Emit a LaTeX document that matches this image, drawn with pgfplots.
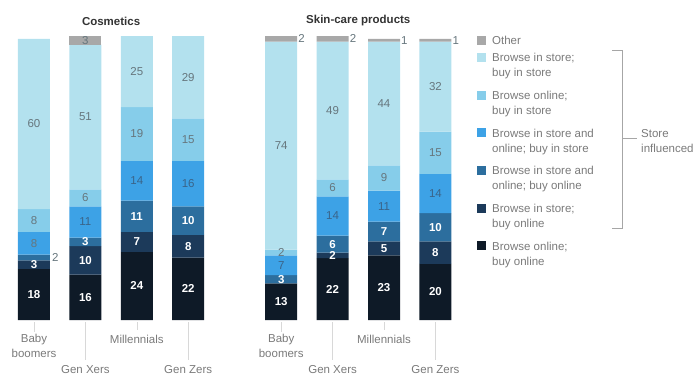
\documentclass[border=0pt]{standalone}
\usepackage{pgfplots}
\pgfplotsset{compat=1.18}
\usepackage{pgfplotstable}
\usepackage{fontspec}
\setmainfont{Liberation Sans}
\definecolor{cOther}{HTML}{A8A8A8}
\definecolor{cSS}{HTML}{B3E1EE}
\definecolor{cOS}{HTML}{86CDEA}
\definecolor{cBS}{HTML}{3DA2E6}
\definecolor{cBO}{HTML}{2C6E9E}
\definecolor{cSO}{HTML}{1C3A5A}
\definecolor{cOO}{HTML}{0E1A27}
\definecolor{labG}{HTML}{66767D}
\definecolor{labB}{HTML}{3A6489}
\definecolor{axG}{HTML}{D8D8D8}
\definecolor{txtG}{HTML}{7A7A7A}
\definecolor{titG}{HTML}{333333}

\pgfplotstableread{
x oo so bo bs os ss other
0 18 3 2 8 8 60 0
1 16 10 3 11 6 51 3
2 24 7 11 14 19 25 0
3 22 8 10 16 15 29 0
}\cosm

\pgfplotstableread{
x oo so bo bs os ss other
0 13 0 3 7 2 74 2
1 22 2 6 14 6 49 2
2 23 5 7 11 9 44 1
3 20 8 10 14 15 32 1
}\skin

\tikzset{
  vW/.style={text=white, font=\fontsize{11.5}{13}\selectfont\bfseries, inner sep=0pt},
  vB/.style={text=labB, font=\fontsize{11.5}{13}\selectfont, inner sep=0pt},
  vG/.style={text=labG, font=\fontsize{11.5}{13}\selectfont, inner sep=0pt},
  vO/.style={text=labG, font=\fontsize{11.5}{13}\selectfont, inner sep=0pt, anchor=west},
  xl/.style={text=txtG, font=\fontsize{11.5}{14}\selectfont, inner sep=0pt},
  lg/.style={text=txtG, font=\fontsize{11.5}{14}\selectfont, inner sep=0pt, anchor=base west},
  tt/.style={text=titG, font=\fontsize{11.5}{14}\selectfont\bfseries, inner sep=0pt},
}

\pgfplotsset{
  panel/.style={ybar stacked, reverse stacked plots=false, bar width=32pt, scale only axis,
    width=205.6pt, height=284pt,
    xmin=-0.5, xmax=3.5, ymin=0, ymax=100, hide axis, clip=false, anchor=south west},
}

\newcommand{\xlabels}{%
  \draw[axG] ([yshift=-2pt]axis cs:0,0) -- ([yshift=-12pt]axis cs:0,0);
  \node[xl] at ([yshift=-20pt]axis cs:0,0) {Baby};
  \node[xl] at ([yshift=-33pt]axis cs:0,0) {boomers};
  \draw[axG] ([yshift=-2pt]axis cs:1,0) -- ([yshift=-40pt]axis cs:1,0);
  \node[xl] at ([yshift=-50pt]axis cs:1,0) {Gen Xers};
  \draw[axG] ([yshift=-2pt]axis cs:2,0) -- ([yshift=-10pt]axis cs:2,0);
  \node[xl] at ([yshift=-19pt]axis cs:2,0) {Millennials};
  \draw[axG] ([yshift=-2pt]axis cs:3,0) -- ([yshift=-40pt]axis cs:3,0);
  \node[xl] at ([yshift=-50pt]axis cs:3,0) {Gen Zers};
}

\begin{document}
\begin{tikzpicture}
\path[use as bounding box] (0,0) rectangle (697pt,373pt);

% ---------------- Cosmetics ----------------
\begin{axis}[panel, at={(8.3pt,53pt)}]
\addplot[fill=cOO, draw=none] table[x=x,y=oo]{\cosm};
\addplot[fill=cSO, draw=none] table[x=x,y=so]{\cosm};
\addplot[fill=cBO, draw=none] table[x=x,y=bo]{\cosm};
\addplot[fill=cBS, draw=none] table[x=x,y=bs]{\cosm};
\addplot[fill=cOS, draw=none] table[x=x,y=os]{\cosm};
\addplot[fill=cSS, draw=none] table[x=x,y=ss]{\cosm};
\addplot[fill=cOther, draw=none] table[x=x,y=other]{\cosm};
\node[vW] at (axis cs:0,9) {18};
\node[vW] at (axis cs:0,19.5) {3};
\node[vO] at ([xshift=18pt]axis cs:0,22) {2};
\node[vG] at (axis cs:0,27) {8};
\node[vG] at (axis cs:0,35) {8};
\node[vG] at (axis cs:0,69) {60};
\node[vW] at (axis cs:1,8) {16};
\node[vW] at (axis cs:1,21) {10};
\node[vW] at (axis cs:1,27.5) {3};
\node[vB] at (axis cs:1,34.5) {11};
\node[vG] at (axis cs:1,43) {6};
\node[vG] at (axis cs:1,71.5) {51};
\node[vG] at (axis cs:1,98.5) {3};
\node[vW] at (axis cs:2,12) {24};
\node[vW] at (axis cs:2,27.5) {7};
\node[vW] at (axis cs:2,36.5) {11};
\node[vB] at (axis cs:2,49) {14};
\node[vG] at (axis cs:2,65.5) {19};
\node[vG] at (axis cs:2,87.5) {25};
\node[vW] at (axis cs:3,11) {22};
\node[vW] at (axis cs:3,26) {8};
\node[vW] at (axis cs:3,35) {10};
\node[vB] at (axis cs:3,48) {16};
\node[vG] at (axis cs:3,63.5) {15};
\node[vG] at (axis cs:3,85.5) {29};
\pgfplotsextra{\xlabels}
\node[tt] at ([yshift=15pt]axis cs:1.5,100) {Cosmetics};
\end{axis}

% ---------------- Skin-care ----------------
\begin{axis}[panel, ymax=101, at={(255.5pt,53pt)}]
\addplot[fill=cOO, draw=none] table[x=x,y=oo]{\skin};
\addplot[fill=cSO, draw=none] table[x=x,y=so]{\skin};
\addplot[fill=cBO, draw=none] table[x=x,y=bo]{\skin};
\addplot[fill=cBS, draw=none] table[x=x,y=bs]{\skin};
\addplot[fill=cOS, draw=none] table[x=x,y=os]{\skin};
\addplot[fill=cSS, draw=none] table[x=x,y=ss]{\skin};
\addplot[fill=cOther, draw=none] table[x=x,y=other]{\skin};
\node[vW] at (axis cs:0,6.5) {13};
\node[vW] at (axis cs:0,14.5) {3};
\node[vB] at (axis cs:0,19.5) {7};
\node[vG] at (axis cs:0,24) {2};
\node[vG] at (axis cs:0,62) {74};
\node[vO] at ([xshift=17pt]axis cs:0,100) {2};
\node[vW] at (axis cs:1,11) {22};
\node[vW] at (axis cs:1,23) {2};
\node[vW] at (axis cs:1,27) {6};
\node[vB] at (axis cs:1,37) {14};
\node[vG] at (axis cs:1,47) {6};
\node[vG] at (axis cs:1,74.5) {49};
\node[vO] at ([xshift=17pt]axis cs:1,100) {2};
\node[vW] at (axis cs:2,11.5) {23};
\node[vW] at (axis cs:2,25.5) {5};
\node[vW] at (axis cs:2,31.5) {7};
\node[vB] at (axis cs:2,40.5) {11};
\node[vG] at (axis cs:2,50.5) {9};
\node[vG] at (axis cs:2,77) {44};
\node[vO] at ([xshift=17pt]axis cs:2,99.5) {1};
\node[vW] at (axis cs:3,10) {20};
\node[vW] at (axis cs:3,24) {8};
\node[vW] at (axis cs:3,33) {10};
\node[vB] at (axis cs:3,45) {14};
\node[vG] at (axis cs:3,59.5) {15};
\node[vG] at (axis cs:3,83) {32};
\node[vO] at ([xshift=17pt]axis cs:3,99.5) {1};
\pgfplotsextra{\xlabels}
\node[tt] at ([yshift=15pt]axis cs:1.5,101) {Skin-care products};
\end{axis}

% ---------------- Legend ----------------
\fill[cOther]  (477pt,328pt) rectangle ++(9pt,9pt);
\node[lg] at (492pt,328pt) {Other};
\fill[cSS] (477pt,310.8pt) rectangle ++(9pt,9pt);
\node[lg] at (492pt,311pt) {Browse in store;};
\node[lg] at (492pt,296pt) {buy in store};
\fill[cOS] (477pt,273pt) rectangle ++(9pt,9pt);
\node[lg] at (492pt,273.2pt) {Browse online;};
\node[lg] at (492pt,258.2pt) {buy in store};
\fill[cBS] (477pt,235.5pt) rectangle ++(9pt,9pt);
\node[lg] at (492pt,235.7pt) {Browse in store and};
\node[lg] at (492pt,220.7pt) {online; buy in store};
\fill[cBO] (477pt,197.8pt) rectangle ++(9pt,9pt);
\node[lg] at (492pt,198pt) {Browse in store and};
\node[lg] at (492pt,183pt) {online; buy online};
\fill[cSO] (477pt,160.2pt) rectangle ++(9pt,9pt);
\node[lg] at (492pt,160.4pt) {Browse in store;};
\node[lg] at (492pt,145.4pt) {buy online};
\fill[cOO] (477pt,122.8pt) rectangle ++(9pt,9pt);
\node[lg] at (492pt,123pt) {Browse online;};
\node[lg] at (492pt,108pt) {buy online};
% bracket
\draw[black!35, line width=0.7pt] (612pt,322.3pt) -- (622pt,322.3pt) -- (622pt,145pt) -- (612pt,145pt);
\draw[black!35, line width=0.7pt] (622pt,235pt) -- (637pt,235pt);
\node[lg] at (641pt,235.7pt) {Store};
\node[lg] at (641pt,220.7pt) {influenced};
\end{tikzpicture}
\end{document}
